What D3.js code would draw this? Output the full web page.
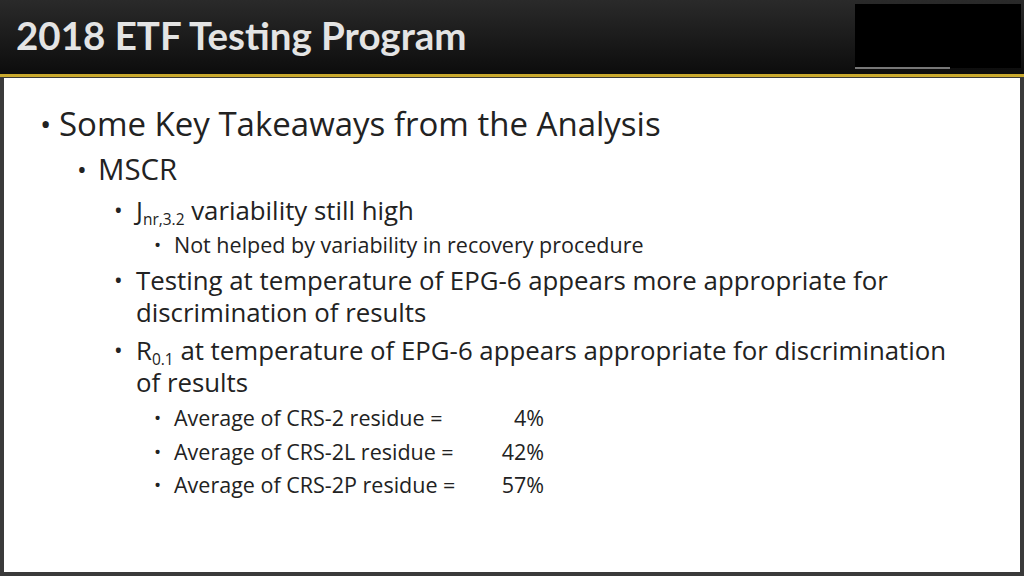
<!DOCTYPE html>
<html><head><meta charset="utf-8">
<script src="https://cdn.jsdelivr.net/npm/d3@7"></script>
<style>body{margin:0;background:#222;}svg{display:block;}</style>
</head><body>
<script>
var title = "2018 ETF Testing Program";
// outline: level, text parts (sub = subscript), baseline
var levels = [0, 1, 2, 3, 2, 2, 2, 2, 3, 3, 3];
var bullets = [true, true, true, true, true, false, true, false, true, true, true];
var lines = [
  [["Some Key Takeaways from the Analysis"]],
  [["MSCR"]],
  [["J"], ["nr,3.2", "sub"], [" variability still high"]],
  [["Not helped by variability in recovery procedure"]],
  [["Testing at temperature of EPG-6 appears more appropriate for"]],
  [["discrimination of results"]],
  [["R"], ["0.1", "sub"], [" at temperature of EPG-6 appears appropriate for discrimination"]],
  [["of results"]],
  [["Average of CRS-2 residue ="]],
  [["Average of CRS-2L residue ="]],
  [["Average of CRS-2P residue ="]]
];
var baselines = [136, 180, 220, 253, 290, 322, 360, 392, 426, 460, 493];
var residueValues = ["", "", "", "", "", "", "", "", "4%", "42%", "57%"];

var W = 1024, H = 576;
var svg = d3.select("body").append("svg").attr("width", W).attr("height", H);
var defs = svg.append("defs");
var g1 = defs.append("linearGradient").attr("id", "hdr").attr("x1", 0).attr("y1", 0).attr("x2", 0).attr("y2", 1);
g1.append("stop").attr("offset", 0).attr("stop-color", "#2a2a2a");
g1.append("stop").attr("offset", 1).attr("stop-color", "#0c0c0c");

svg.append("rect").attr("width", W).attr("height", H).attr("fill", "#3a3a3a");
svg.append("rect").attr("x", 4).attr("y", 78).attr("width", W - 8).attr("height", H - 82).attr("fill", "#fff");
svg.append("rect").attr("width", W).attr("height", 75).attr("fill", "url(#hdr)");
svg.append("rect").attr("x", 855).attr("y", 4).attr("width", 166).attr("height", 64).attr("fill", "#000");
svg.append("rect").attr("x", 855).attr("y", 67).attr("width", 95).attr("height", 2).attr("fill", "#777");
svg.append("rect").attr("y", 74).attr("width", W).attr("height", 3).attr("fill", "#c9a92e");
svg.append("text").attr("x", 16).attr("y", 50).text(title)
  .attr("font-family", "Lato, sans-serif").attr("font-weight", "bold").attr("font-size", 38.5)
  .attr("fill", "#e4e4e4");

var bx = [40, 77, 114, 154], tx = [59, 98, 136, 174], fs = [33, 29.4, 25.8, 21.5], bfs = [30, 26, 23, 19];
var x = d3.scaleOrdinal().domain([0, 1, 2, 3]).range(tx);
var font = "Open Sans, sans-serif";

lines.forEach(function(parts, i) {
  var lv = levels[i];
  if (bullets[i]) svg.append("text").attr("x", bx[lv]).attr("y", baselines[i] - 1).text("•")
    .attr("font-family", font).attr("font-size", bfs[lv]).attr("fill", "#222");
  var t = svg.append("text").attr("x", x(lv)).attr("y", baselines[i])
    .attr("font-family", font).attr("font-size", fs[lv]).attr("fill", "#222");
  parts.forEach(function(p) {
    if (p[1] == "sub") t.append("tspan").attr("font-size", fs[lv] * 0.6).attr("dy", 5).text(p[0]);
    else { var s = t.append("tspan").text(p[0]); if (t.selectAll("tspan").size() > 1) s.attr("dy", -5); }
  });
  if (residueValues[i]) svg.append("text").attr("x", 544).attr("y", baselines[i]).attr("text-anchor", "end")
    .text(residueValues[i]).attr("font-family", font).attr("font-size", fs[lv]).attr("fill", "#222");
});
</script>
</body></html>
